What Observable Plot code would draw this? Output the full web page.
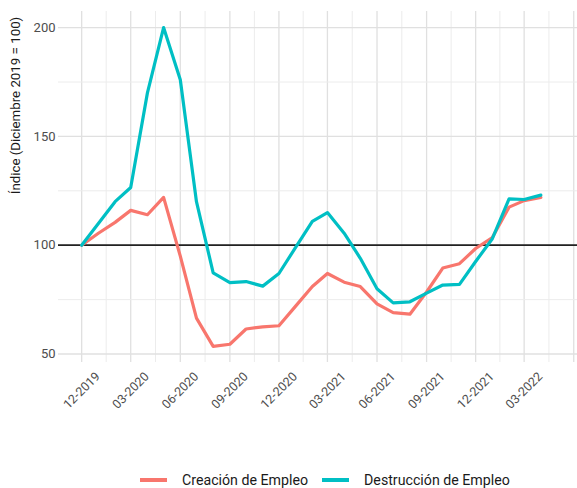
<!DOCTYPE html>
<html>
<head>
<meta charset="utf-8">
<script src="https://cdn.jsdelivr.net/npm/d3@7"></script>
<script src="https://cdn.jsdelivr.net/npm/@observablehq/plot@0.6"></script>
<style>
  body { margin: 0; background: #fff; font-family: Roboto, "Liberation Sans", sans-serif; }
  #chart { width: 577px; height: 430px; }
  #legend { position: relative; width: 577px; height: 58px; display: flex; align-items: center; padding-left: 140px; box-sizing: border-box; padding-top: 42px; }
  .item { display: flex; align-items: center; margin-right: 14px; }
  .sw { width: 27px; height: 4px; margin-right: 15px; }
  .lab { font-size: 14.2px; color: #1a1a1a; }
</style>
</head>
<body>
<div id="chart"></div>
<div id="legend"></div>
<script>
const months = ["12-2019","01-2020","02-2020","03-2020","04-2020","05-2020","06-2020","07-2020","08-2020","09-2020","10-2020","11-2020","12-2020","01-2021","02-2021","03-2021","04-2021","05-2021","06-2021","07-2021","08-2021","09-2021","10-2021","11-2021","12-2021","01-2022","02-2022","03-2022","04-2022"];
const creacion = [100,105.5,110.5,116,114,122,95,66.5,53.5,54.5,61.5,62.5,63,72,81,87,83,81,73,69,68.3,78.5,89.5,91.5,98.5,103.5,117.5,120.5,122];
const destruccion = [100,110,120,126.5,170,200,176,120,87.3,82.8,83.3,81.2,87,99,111,115,105.5,94,80,73.5,74,78,81.7,82,92.5,103,121.3,121,123];
const seriesNames = ["Creación de Empleo", "Destrucción de Empleo"];
const seriesColors = ["#F8766D", "#00BFC4"];
const xTickLabels = ["12-2019","03-2020","06-2020","09-2020","12-2020","03-2021","06-2021","09-2021","12-2021","03-2022"];
const yTicks = [50, 100, 150, 200];
const yMinorTicks = [75, 125, 175];
const yTitle = "Índice (Diciembre 2019 = 100)";
const refValue = 100;

const parseMY = s => { const [m, y] = s.split("-").map(Number); return new Date(Date.UTC(y, m - 1, 1)); };

const rows = months.flatMap((m, i) => [
  {date: parseMY(m), value: creacion[i], series: seriesNames[0]},
  {date: parseMY(m), value: destruccion[i], series: seriesNames[1]}
]);

const xDomain = [new Date(Date.UTC(2019, 9, 19)), new Date(Date.UTC(2022, 5, 8))];

const tickDates = xTickLabels.map(parseMY);
const majorX = tickDates.slice();
let nxt = d3.utcMonth.offset(majorX[majorX.length - 1], 3);
while (nxt <= xDomain[1]) { majorX.push(nxt); nxt = d3.utcMonth.offset(nxt, 3); }
const minorX = [];
for (let i = 0; i < majorX.length - 1; i++) minorX.push(new Date((+majorX[i] + +majorX[i + 1]) / 2));
const before = new Date(+majorX[0] - (+majorX[1] - +majorX[0]) / 2);
if (before >= xDomain[0]) minorX.unshift(before);

const xLabels = tickDates.map((d, i) => ({date: d, label: xTickLabels[i]}));

const chart = Plot.plot({
  width: 577,
  height: 430,
  marginLeft: 58,
  marginRight: 0,
  marginTop: 11,
  marginBottom: 68,
  style: {fontFamily: "Roboto, 'Liberation Sans', sans-serif", background: "#fff"},
  x: {type: "utc", domain: xDomain, axis: null},
  y: {domain: [46.1, 207.4], axis: null, label: null},
  color: {domain: seriesNames, range: seriesColors},
  marks: [
    Plot.ruleX(minorX, {stroke: "#ececec", strokeWidth: 1}),
    Plot.ruleX(majorX, {stroke: "#e0e0e0", strokeWidth: 1.3}),
    Plot.ruleY(yMinorTicks, {stroke: "#ececec", strokeWidth: 1}),
    Plot.ruleY(yTicks, {stroke: "#e0e0e0", strokeWidth: 1.3}),
    Plot.ruleY([refValue], {stroke: "#222", strokeWidth: 1.7}),
    Plot.line(rows, {x: "date", y: "value", z: "series", stroke: "series", strokeWidth: 3.2}),
    Plot.axisY(yTicks, {tickSize: 0, tickPadding: 3, fontSize: 13, fill: "#4d4d4d", label: null}),
    Plot.text(xLabels, {x: "date", text: "label", frameAnchor: "bottom", dy: 28, rotate: -45, textAnchor: "middle", lineAnchor: "middle", fontSize: 12.5, fill: "#4d4d4d"}),
    Plot.text([yTitle], {frameAnchor: "top-left", dx: -43, dy: 94, rotate: -90, textAnchor: "middle", lineAnchor: "middle", fontSize: 13.3, fill: "#1a1a1a"})
  ]
});
document.getElementById("chart").appendChild(chart);

const legend = document.getElementById("legend");
seriesNames.forEach((name, i) => {
  const item = document.createElement("div");
  item.className = "item";
  const sw = document.createElement("div");
  sw.className = "sw";
  sw.style.background = seriesColors[i];
  const lab = document.createElement("span");
  lab.className = "lab";
  lab.textContent = name;
  item.appendChild(sw);
  item.appendChild(lab);
  legend.appendChild(item);
});
</script>
</body>
</html>
